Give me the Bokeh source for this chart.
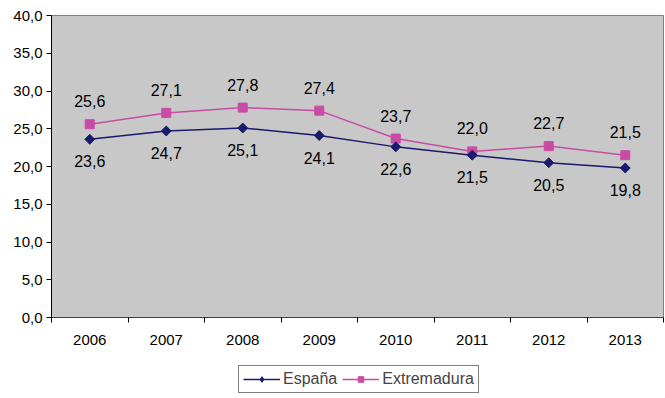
import math
from bokeh.plotting import figure
from bokeh.layouts import column
from bokeh.models import FixedTicker, ColumnDataSource, LabelSet, Legend, LegendItem, Range1d
from bokeh.core.properties import value
from bokeh.embed import file_html
from bokeh.resources import INLINE

years = [2006, 2007, 2008, 2009, 2010, 2011, 2012, 2013]
espana = [23.6, 24.7, 25.1, 24.1, 22.6, 21.5, 20.5, 19.8]
extremadura = [25.6, 27.1, 27.8, 27.4, 23.7, 22.0, 22.7, 21.5]
y_ticks = [0, 5, 10, 15, 20, 25, 30, 35, 40]
series_names = ["España", "Extremadura"]

def fmt(v):
    return f"{v:.1f}".replace(".", ",")

FONT = "Liberation Sans"
C_ESP = "#1A1A6E"
C_EXT = "#C84BA6"
DIAMOND = dict(marker="square", angle=math.pi / 4, size=7)

p = figure(frame_width=612, frame_height=302, output_backend="svg", toolbar_location=None,
           x_range=Range1d(years[0] - 0.5, years[-1] + 0.5), y_range=Range1d(0, 40),
           min_border_left=51, min_border_top=15, min_border_right=2, min_border_bottom=40)
p.background_fill_color = "#C8C8C8"
p.border_fill_color = "white"
p.outline_line_color = "#808080"
p.outline_line_width = 1
p.xgrid.visible = False
p.ygrid.visible = False

# axes
p.yaxis.ticker = FixedTicker(ticks=y_ticks)
p.yaxis.major_label_overrides = {t: fmt(t) for t in y_ticks}
p.yaxis.major_tick_out = 5
p.yaxis.major_tick_in = 0
p.yaxis.minor_tick_out = 0
p.yaxis.minor_tick_in = 0
p.yaxis.axis_line_color = "black"
p.yaxis.major_tick_line_color = "black"
p.yaxis.major_label_text_font = FONT
p.yaxis.major_label_text_font_size = "15px"
p.yaxis.major_label_text_color = "black"
p.yaxis.major_label_standoff = 4

p.xaxis.ticker = FixedTicker(ticks=years, minor_ticks=[y - 0.5 for y in years] + [years[-1] + 0.5])
p.xaxis.major_tick_out = 0
p.xaxis.major_tick_in = 0
p.xaxis.minor_tick_out = 5
p.xaxis.minor_tick_in = 0
p.xaxis.minor_tick_line_color = "black"
p.xaxis.axis_line_color = "#404040"
p.xaxis.major_label_text_font = FONT
p.xaxis.major_label_text_font_size = "15px"
p.xaxis.major_label_text_color = "black"
p.xaxis.major_label_standoff = 12

src = ColumnDataSource(dict(x=years, esp=espana, ext=extremadura,
                            esp_lbl=[fmt(v) for v in espana],
                            ext_lbl=[fmt(v) for v in extremadura]))

p.line("x", "ext", source=src, line_color=C_EXT, line_width=1.5)
p.scatter("x", "ext", source=src, marker="square", size=9, fill_color=C_EXT, line_color=C_EXT)
p.line("x", "esp", source=src, line_color=C_ESP, line_width=1.5)
p.scatter("x", "esp", source=src, fill_color=C_ESP, line_color=C_ESP, **DIAMOND)

p.add_layout(LabelSet(x="x", y="ext", text="ext_lbl", source=src, y_offset=17,
                      text_align="center", text_baseline="bottom", text_font=value(FONT),
                      text_font_size="16px", text_color="black"))
p.add_layout(LabelSet(x="x", y="esp", text="esp_lbl", source=src, y_offset=-16,
                      text_align="center", text_baseline="top", text_font=value(FONT),
                      text_font_size="16px", text_color="black"))

# legend strip below the chart (swatch renderers sit outside its visible range)
lg = figure(width=665, height=41, output_backend="svg", toolbar_location=None,
            x_range=Range1d(0, 1), y_range=Range1d(0, 1),
            min_border_left=0, min_border_right=0, min_border_top=0, min_border_bottom=0)
lg.axis.visible = False
lg.grid.visible = False
lg.outline_line_color = None
lg.background_fill_color = "white"
swatch = ColumnDataSource(dict(x=[-5, -4], y=[-5, -4]))
l1 = lg.line("x", "y", source=swatch, line_color=C_ESP, line_width=1.5)
m1 = lg.scatter("x", "y", source=swatch, marker="diamond", size=12, fill_color=C_ESP, line_color=C_ESP)
l2 = lg.line("x", "y", source=swatch, line_color=C_EXT, line_width=1.5)
m2 = lg.scatter("x", "y", source=swatch, marker="square", size=9, fill_color=C_EXT, line_color=C_EXT)

legend = Legend(items=[LegendItem(label=series_names[0], renderers=[l1, m1], index=0),
                       LegendItem(label=series_names[1], renderers=[l2, m2], index=0)],
                orientation="horizontal", location=(187, 5),
                border_line_color="black", border_line_width=1,
                background_fill_color="white", background_fill_alpha=1,
                label_text_font=FONT, label_text_font_size="16px",
                glyph_width=37, glyph_height=14, label_standoff=3, spacing=5,
                padding=4, margin=0, label_height=14)
lg.add_layout(legend)

open("out.html", "w").write(file_html(column(p, lg, spacing=0), INLINE))
